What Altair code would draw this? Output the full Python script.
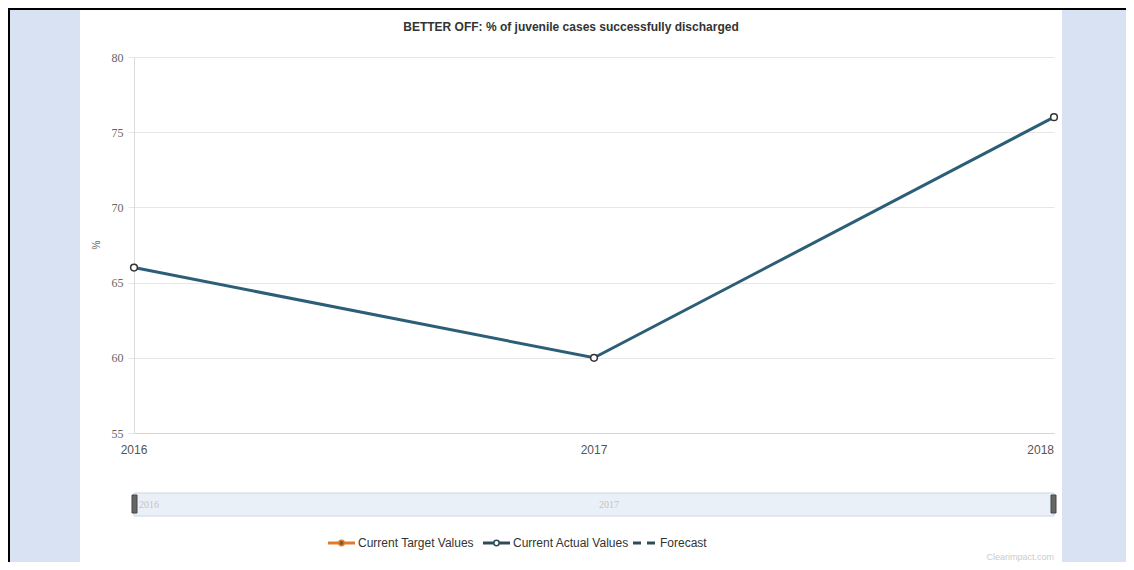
import altair as alt
import pandas as pd

# ---- data ----
years = [2016, 2017, 2018]
actual = [66, 60, 76]
y_ticks = [55, 60, 65, 70, 75, 80]
legend_labels = ["Current Target Values", "Current Actual Values", "Forecast"]
title_text = "BETTER OFF: % of juvenile cases successfully discharged"
axis_title = "%"
credit = "Clearimpact.com"

df = pd.DataFrame({"year": years, "actual": actual})

# ---- layout ----
W, H = 920, 376
PAD = {"left": 126, "top": 49, "right": 72, "bottom": 129}
RIGHT_EDGE = W + PAD["right"]
BOTTOM_EDGE = H + PAD["bottom"]
SANS = "Liberation Sans"
LINE = "#2c5f77"
DARK = "#2f4a58"
BLUE = "#d9e2f3"

one = alt.Data(values=[{}])
xscale = alt.Scale(domain=[2016, 2018], nice=False, zero=False)
yscale = alt.Scale(domain=[55, 80], nice=False, zero=False)

side_l = alt.Chart(one).mark_rect(fill=BLUE).encode(
    x=alt.value(-126), x2=alt.value(-54), y=alt.value(-49), y2=alt.value(BOTTOM_EDGE)
)
side_r = alt.Chart(one).mark_rect(fill=BLUE).encode(
    x=alt.value(928), x2=alt.value(RIGHT_EDGE), y=alt.value(-49), y2=alt.value(BOTTOM_EDGE)
)
top_rule = alt.Chart(one).mark_rule(color="black", strokeWidth=2).encode(
    x=alt.value(-126), x2=alt.value(RIGHT_EDGE), y=alt.value(-48)
)
left_rule = alt.Chart(one).mark_rule(color="black", strokeWidth=2).encode(
    x=alt.value(-125), y=alt.value(-49), y2=alt.value(BOTTOM_EDGE)
)

x_axis = alt.Axis(
    values=years, grid=False, ticks=False, labels=False, domainColor="#d6d6d6",
)
x_enc = alt.X("year:Q", scale=xscale, title=None, axis=x_axis)
y_enc = alt.Y(
    "actual:Q", scale=yscale, title=None,
    axis=alt.Axis(
        values=y_ticks, grid=True, gridColor="#e6e6e6", domainColor="#dcdcdc",
        tickColor="#e6e6e6", tickSize=6, labelFont="Liberation Serif",
        labelFontSize=12, labelColor="#666", labelPadding=5,
    ),
)

line = alt.Chart(df).mark_line(color=LINE, strokeWidth=3).encode(x=x_enc, y=y_enc)
points = alt.Chart(df).mark_point(
    shape="circle", filled=False, fill="white", stroke="#333", strokeWidth=1.5,
    size=45, opacity=1,
).encode(x=alt.X("year:Q", axis=x_axis), y="actual:Q")

# x tick labels (last one right-aligned, like the original)
xlab_c = alt.Chart(df).transform_filter("datum.year < 2018").mark_text(
    font=SANS, fontSize=12, color="#555", align="center", baseline="middle",
).encode(x=alt.X("year:Q", axis=x_axis), y=alt.value(393),
         text=alt.Text("year:Q", format="d"))
xlab_r = alt.Chart(df).transform_filter("datum.year == 2018").mark_text(
    font=SANS, fontSize=12, color="#555", align="right", baseline="middle",
).encode(x=alt.X("year:Q", axis=x_axis), y=alt.value(393),
         text=alt.Text("year:Q", format="d"))

# navigator
nav = alt.Chart(one).mark_rect(fill="#eaf0f8", stroke="#cfd6df", strokeWidth=1).encode(
    x=alt.datum(2016), x2=alt.datum(2018), y=alt.value(436), y2=alt.value(459)
)
nav_labels = alt.Chart(df).transform_filter("datum.year < 2018").mark_text(
    align="left", baseline="middle", dx=5, fontSize=10, color="#c4c4c4",
    font="Liberation Serif",
).encode(x=alt.X("year:Q", axis=x_axis), y=alt.value(447.5),
         text=alt.Text("year:Q", format="d"))
handle_l = alt.Chart(one).mark_rect(fill="#666", stroke="#444").encode(
    x=alt.value(-2), x2=alt.value(3), y=alt.value(438), y2=alt.value(456)
)
handle_r = alt.Chart(one).mark_rect(fill="#666", stroke="#444").encode(
    x=alt.value(917), x2=alt.value(922), y=alt.value(438), y2=alt.value(456)
)

title = alt.Chart(one).mark_text(
    font=SANS, fontSize=12, fontWeight="bold", color="#333",
    align="center", baseline="middle",
).encode(x=alt.value(437), y=alt.value(-30), text=alt.value(title_text))

ytitle = alt.Chart(one).mark_text(
    fontSize=10, color="#666", angle=270, align="center", baseline="middle",
).encode(x=alt.value(-37), y=alt.value(188), text=alt.value(axis_title))

credit_txt = alt.Chart(one).mark_text(
    fontSize=9, color="#cccccc", align="right", baseline="bottom", font=SANS,
).encode(x=alt.value(920), y=alt.value(BOTTOM_EDGE), text=alt.value(credit))

# legend
LY = 486
leg_specs = [
    (194, 221, "#e07a2e", "#7d5d20", None),
    (349, 376, DARK, "white", None),
    (499, 523, DARK, None, [8, 6]),
]
legend_layers = []
for label, (x0, x1, col, pfill, dash) in zip(legend_labels, leg_specs):
    kw = {"strokeDash": dash} if dash else {}
    legend_layers.append(
        alt.Chart(one).mark_rule(color=col, strokeWidth=3, **kw).encode(
            x=alt.value(x0), x2=alt.value(x1), y=alt.value(LY)
        )
    )
    if pfill:
        legend_layers.append(
            alt.Chart(one).mark_point(
                shape="circle", fill=pfill, stroke=col, strokeWidth=1.5,
                size=28, opacity=1, filled=False,
            ).encode(x=alt.value((x0 + x1) / 2), y=alt.value(LY))
        )
    legend_layers.append(
        alt.Chart(one).mark_text(
            font=SANS, fontSize=12, color="#333", align="left", baseline="middle",
        ).encode(x=alt.value(x1 + 3), y=alt.value(LY), text=alt.value(label))
    )

chart = alt.layer(
    side_l, side_r, top_rule, left_rule, line, points, xlab_c, xlab_r, nav,
    nav_labels, handle_l, handle_r, title, ytitle, credit_txt, *legend_layers,
).properties(
    width=W, height=H, padding=PAD, autosize="none",
).configure(background="white").configure_view(stroke=None)

chart.save("out.html", embed_options={"renderer": "svg", "actions": False})
